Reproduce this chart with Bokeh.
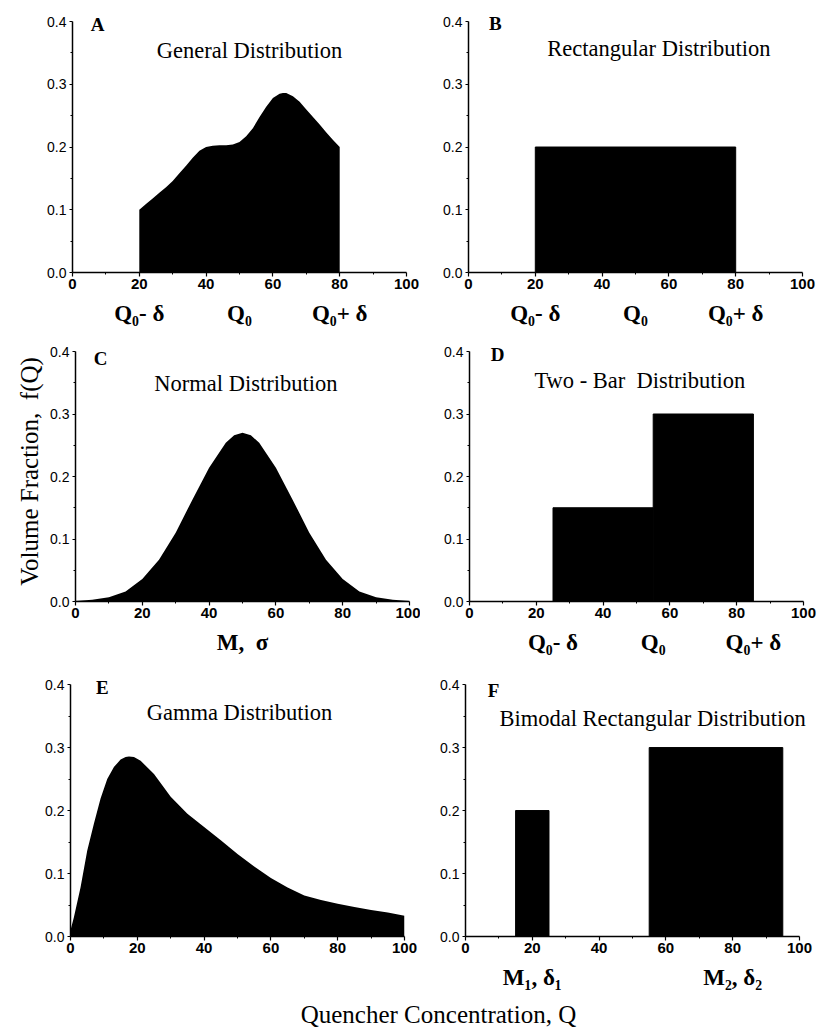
from bokeh.plotting import figure
from bokeh.layouts import column, row
from bokeh.models import Range1d, FixedTicker, LinearAxis, Label, PrintfTickFormatter
from bokeh.embed import file_html
from bokeh.resources import INLINE

# ---------------- data ----------------
gen_x = [20, 22, 24, 26, 28, 30, 32, 34, 36, 38, 40, 42, 44, 46, 48, 50, 52, 54, 56, 58,
         60, 62, 63, 64, 66, 68, 70, 72, 74, 76, 78, 80]
gen_y = [0.100, 0.109, 0.118, 0.127, 0.136, 0.146, 0.158, 0.170, 0.183, 0.194, 0.200,
         0.202, 0.203, 0.203, 0.204, 0.208, 0.217, 0.230, 0.248, 0.264, 0.278, 0.285,
         0.286, 0.286, 0.281, 0.272, 0.260, 0.248, 0.236, 0.223, 0.211, 0.200]

rect_left = [20]
rect_right = [80]
rect_top = [0.2]

norm_x = [0, 5, 10, 15, 20, 25, 30, 35, 40, 45, 47.5, 50, 52.5, 55, 60, 65, 70, 75, 80,
          85, 90, 95, 100]
norm_y = [0.001, 0.003, 0.007, 0.016, 0.036, 0.067, 0.110, 0.163, 0.214, 0.254, 0.266,
          0.270, 0.266, 0.254, 0.214, 0.163, 0.110, 0.067, 0.036, 0.016, 0.007, 0.003,
          0.001]

two_left = [25, 55]
two_right = [55, 85]
two_top = [0.15, 0.30]

gam_x = [0, 1, 3, 5, 7, 9, 11, 13, 15, 16.5, 17.5, 19, 21, 25, 30, 35, 40, 45, 50, 55,
         60, 65, 70, 75, 80, 85, 90, 95, 100]
gam_y = [0.010, 0.030, 0.078, 0.136, 0.179, 0.219, 0.250, 0.269, 0.281, 0.285, 0.286,
         0.285, 0.279, 0.258, 0.222, 0.195, 0.174, 0.153, 0.131, 0.111, 0.093, 0.078,
         0.065, 0.058, 0.052, 0.047, 0.042, 0.038, 0.033]

bim_left = [15, 55]
bim_right = [25, 95]
bim_top = [0.20, 0.30]

x_ticks = [0, 20, 40, 60, 80, 100]
x_minor = [10, 30, 50, 70, 90]
y_ticks = [0.0, 0.1, 0.2, 0.3, 0.4]
y_minor = [0.05, 0.15, 0.25, 0.35]

titles = ["General Distribution", "Rectangular Distribution", "Normal Distribution",
          "Two - Bar\u00a0 Distribution", "Gamma Distribution", "Bimodal Rectangular Distribution"]
letters = ["A", "B", "C", "D", "E", "F"]

q_ticks_A = [20, 50, 80]
q_ticks_D = [25, 55, 85]
q_labels = ["Q\u2080- \u03b4", "Q\u2080", "Q\u2080+ \u03b4"]
c_ticks = [50]
c_labels = ["M,\u00a0 \u03c3"]
f_ticks = [20, 80]
f_labels = ["M\u2081, \u03b4\u2081", "M\u2082, \u03b4\u2082"]

y_label = "Volume Fraction,\u00a0 f(Q)"
x_label = "Quencher Concentration, Q"

SERIF = "Liberation Serif"
SANS = "Liberation Sans"
Y_END = 0.416   # a little headroom above the 0.4 axis end so the panel letters are not clipped


def make_panel(width, height, left, right, top, bottom, letter, title, lx, ly, tx, ty, x_end=100):
    p = figure(width=width, height=height, x_range=Range1d(0, x_end), y_range=Range1d(0, Y_END),
               output_backend="svg", toolbar_location=None,
               min_border_left=left, min_border_right=right,
               min_border_top=top, min_border_bottom=bottom)
    p.outline_line_color = None
    p.xgrid.visible = False
    p.ygrid.visible = False
    p.background_fill_color = "white"
    p.border_fill_color = "white"

    p.xaxis.ticker = FixedTicker(ticks=x_ticks, minor_ticks=x_minor)
    p.yaxis.ticker = FixedTicker(ticks=y_ticks, minor_ticks=y_minor)
    p.yaxis.formatter = PrintfTickFormatter(format="%.1f")
    p.yaxis.bounds = (0, 0.4)
    p.xaxis.bounds = (0, 100)
    for ax in (p.xaxis[0], p.yaxis[0]):
        ax.axis_line_color = "black"
        ax.axis_line_width = 1.5
        ax.major_tick_line_color = "black"
        ax.major_tick_line_width = 1.2
        ax.minor_tick_line_color = "black"
        ax.major_tick_in = 0
        ax.minor_tick_in = 0
        ax.major_label_text_color = "black"
        ax.major_label_text_font = SANS
    p.xaxis.major_tick_out = 4
    p.xaxis.minor_tick_out = 2
    p.xaxis.major_label_standoff = 2
    p.xaxis.major_label_text_font_size = "15px"
    p.xaxis.major_label_text_font_style = "bold"
    p.yaxis.major_tick_out = 3
    p.yaxis.minor_tick_out = 2
    p.yaxis.major_label_standoff = 3
    p.yaxis.major_label_text_font_size = "14px"

    p.add_layout(Label(x=lx, y=ly, text=letter, text_font=SERIF, text_font_size="19px",
                       text_font_style="bold", text_align="center", text_baseline="middle",
                       text_color="black"))
    p.add_layout(Label(x=tx, y=ty, text=title, text_font=SERIF, text_font_size="22.5px",
                       text_align="center", text_baseline="middle", text_color="black"))
    return p


def add_label_axis(p, ticks, labels, standoff=3):
    ax = LinearAxis(ticker=FixedTicker(ticks=ticks, minor_ticks=[]),
                    major_label_overrides={t: s for t, s in zip(ticks, labels)})
    ax.axis_line_color = None
    ax.major_tick_line_color = None
    ax.minor_tick_line_color = None
    ax.major_label_standoff = standoff
    ax.major_label_text_font = SERIF
    ax.major_label_text_font_size = "23px"
    ax.major_label_text_font_style = "bold"
    ax.major_label_text_color = "black"
    p.add_layout(ax, "below")


# Row 1 (page y 0..334)
pA = make_panel(420, 334, 72, 14, 11, 62, letters[0], titles[0], 7.5, 0.396, 53, 0.354)
pA.varea(x=gen_x, y1=0, y2=gen_y, fill_color="black")
add_label_axis(pA, q_ticks_A, q_labels)

pB = make_panel(397, 334, 48, 15, 11, 62, letters[1], titles[1], 8, 0.397, 57, 0.357)
pB.quad(left=rect_left, right=rect_right, top=rect_top, bottom=0, fill_color="black", line_color="black")
add_label_axis(pB, q_ticks_A, q_labels)

# Row 2 (page y 334..668)
pC = make_panel(420, 334, 75, 11, 7, 67, letters[2], titles[2], 7.5, 0.389, 51, 0.349)
pC.varea(x=norm_x, y1=0, y2=norm_y, fill_color="black")
add_label_axis(pC, c_ticks, c_labels)
pC.yaxis.axis_label = y_label
pC.yaxis.axis_label_text_font = SERIF
pC.yaxis.axis_label_text_font_size = "25px"
pC.yaxis.axis_label_text_font_style = "normal"
pC.yaxis.axis_label_text_color = "black"
pC.yaxis.axis_label_standoff = 4

pD = make_panel(397, 334, 49, 14, 7, 67, letters[3], titles[3], 8.4, 0.396, 51, 0.353)
pD.quad(left=two_left, right=two_right, top=two_top, bottom=0, fill_color="black", line_color="black")
add_label_axis(pD, q_ticks_D, q_labels)

# Row 3 (page y 668..994)
pE = make_panel(420, 326, 70, 16, 6, 58, letters[4], titles[4], 9.5, 0.396, 50.6, 0.356)
pE.varea(x=gam_x, y1=0, y2=gam_y, fill_color="black")

# F: frame extended 3% to the right (axis still ends at 100) so its long title is not clipped
pF = make_panel(397, 326, 45, 8, 6, 58, letters[5], titles[5], 8.4, 0.39, 56, 0.346, x_end=103)
pF.quad(left=bim_left, right=bim_right, top=bim_top, bottom=0, fill_color="black", line_color="black")
add_label_axis(pF, f_ticks, f_labels)

# Bottom shared x label (page y 994..1028)
pX = figure(width=817, height=34, x_range=Range1d(0, 817), y_range=Range1d(0, 34),
            output_backend="svg", toolbar_location=None, min_border=0)
pX.outline_line_color = None
pX.axis.visible = False
pX.grid.visible = False
pX.add_layout(Label(x=438, y=14, text=x_label, text_font=SERIF, text_font_size="25px",
                    text_align="center", text_baseline="middle", text_color="black"))

layout = column(row(pA, pB), row(pC, pD), row(pE, pF), pX)

open("out.html", "w").write(file_html(layout, INLINE))
